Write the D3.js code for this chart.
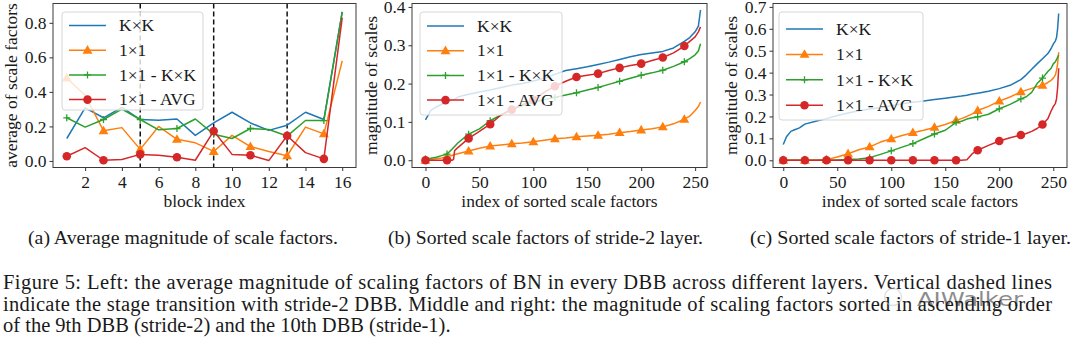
<!DOCTYPE html>
<html>
<head>
<meta charset="utf-8">
<script src="https://cdn.jsdelivr.net/npm/d3@7/dist/d3.min.js"></script>
<style>
  body { margin: 0; background: #fff; }
  svg text { font-family: "Liberation Serif", "Times New Roman", serif; fill: #1a1a1a; }
</style>
</head>
<body>
<svg id="fig" width="1080" height="347"></svg>
<script>
const seriesNames = ["K×K", "1×1", "1×1 - K×K", "1×1 - AVG"];

// (a) average magnitude per block
const blocks = [1, 2, 3, 4, 5, 6, 7, 8, 9, 10, 11, 12, 13, 14, 15, 16];
const avgKxK = [0.13, 0.307, 0.25, 0.31, 0.24, 0.235, 0.243, 0.148, 0.22, 0.282, 0.22, 0.177, 0.207, 0.282, 0.24, 0.864];
const avg1x1 = [0.48, 0.38, 0.175, 0.193, 0.067, 0.2, 0.125, 0.105, 0.055, 0.148, 0.083, 0.055, 0.03, 0.196, 0.157, 0.58];
const avg1x1KxK = [0.25, 0.196, 0.24, 0.3, 0.24, 0.18, 0.188, 0.243, 0.155, 0.13, 0.188, 0.182, 0.144, 0.234, 0.234, 0.864];
const avg1x1Avg = [0.027, 0.077, 0.004, 0.008, 0.038, 0.033, 0.021, 0.004, 0.173, 0.038, 0.033, 0.002, 0.146, 0.048, 0.012, 0.83];
const stageBreaks = [5, 9, 13];

// (b) sorted scale factors, stride-2 block
const idxB = [0, 5, 10, 15, 20, 25, 26, 27, 30, 40, 50, 60, 70, 80, 90, 100, 110, 120, 130, 140, 150, 160, 170, 180, 190, 200, 210, 220, 230, 240, 245, 250, 253, 255];
const s2KxK = [0.105, 0.13, 0.139, 0.146, 0.152, 0.157, 0.158, 0.159, 0.165, 0.172, 0.178, 0.183, 0.19, 0.196, 0.2, 0.207, 0.214, 0.224, 0.234, 0.239, 0.244, 0.25, 0.256, 0.263, 0.27, 0.276, 0.28, 0.284, 0.293, 0.31, 0.32, 0.335, 0.35, 0.392];
const s21x1 = [0, 0.002, 0.004, 0.006, 0.009, 0.013, 0.014, 0.015, 0.017, 0.024, 0.031, 0.037, 0.04, 0.043, 0.045, 0.048, 0.052, 0.056, 0.058, 0.061, 0.063, 0.065, 0.068, 0.072, 0.075, 0.079, 0.082, 0.087, 0.095, 0.107, 0.115, 0.13, 0.14, 0.152];
const s21x1KxK = [0.003, 0.005, 0.008, 0.012, 0.016, 0.03, 0.033, 0.036, 0.045, 0.068, 0.082, 0.103, 0.118, 0.133, 0.143, 0.152, 0.158, 0.164, 0.17, 0.176, 0.183, 0.19, 0.198, 0.206, 0.214, 0.222, 0.228, 0.235, 0.245, 0.257, 0.265, 0.275, 0.285, 0.304];
const s21x1Avg = [0, 0, 0, 0, 0, 0, 0.002, 0.025, 0.033, 0.057, 0.075, 0.094, 0.118, 0.132, 0.145, 0.158, 0.177, 0.193, 0.206, 0.217, 0.222, 0.226, 0.234, 0.241, 0.247, 0.252, 0.26, 0.268, 0.28, 0.298, 0.31, 0.322, 0.335, 0.348];

// (c) sorted scale factors, stride-1 block
const idxC = [0, 3, 7, 10, 15, 20, 30, 40, 50, 60, 70, 80, 90, 100, 110, 120, 130, 140, 150, 160, 165, 170, 175, 180, 190, 200, 210, 220, 225, 230, 235, 240, 245, 248, 250, 252, 253, 254, 255];
const s1KxK = [0.072, 0.107, 0.132, 0.138, 0.148, 0.165, 0.178, 0.19, 0.204, 0.216, 0.226, 0.234, 0.24, 0.249, 0.258, 0.265, 0.271, 0.277, 0.283, 0.29, 0.293, 0.297, 0.302, 0.306, 0.315, 0.327, 0.342, 0.368, 0.39, 0.415, 0.44, 0.463, 0.487, 0.51, 0.53, 0.545, 0.56, 0.6, 0.67];
const s11x1 = [0, 0, 0, 0, 0, 0, 0, 0.003, 0.015, 0.03, 0.048, 0.061, 0.083, 0.098, 0.113, 0.126, 0.137, 0.15, 0.163, 0.182, 0.19, 0.2, 0.212, 0.227, 0.246, 0.27, 0.289, 0.312, 0.32, 0.328, 0.336, 0.342, 0.355, 0.365, 0.375, 0.39, 0.41, 0.44, 0.493];
const s11x1KxK = [0, 0, 0, 0, 0, 0, 0, 0, 0.001, 0.003, 0.006, 0.012, 0.027, 0.043, 0.06, 0.076, 0.098, 0.12, 0.137, 0.173, 0.178, 0.188, 0.194, 0.198, 0.21, 0.235, 0.255, 0.28, 0.29, 0.31, 0.35, 0.375, 0.405, 0.42, 0.44, 0.45, 0.46, 0.47, 0.48];
const s11x1Avg = [0, 0, 0, 0, 0, 0, 0, 0, 0, 0, 0, 0, 0, 0, 0, 0, 0, 0, 0, 0, 0, 0.002, 0.03, 0.046, 0.068, 0.088, 0.103, 0.115, 0.122, 0.132, 0.145, 0.163, 0.19, 0.225, 0.245, 0.26, 0.28, 0.33, 0.42];

const yTicksA = [0.0, 0.2, 0.4, 0.6, 0.8];
const xTicksA = [2, 4, 6, 8, 10, 12, 14, 16];
const yTicksB = [0.0, 0.1, 0.2, 0.3, 0.4];
const yTicksC = [0.0, 0.1, 0.2, 0.3, 0.4, 0.5, 0.6, 0.7];
const xTicksBC = [0, 50, 100, 150, 200, 250];

const colors = ["#1f77b4", "#ff7f0e", "#2ca02c", "#d62728"];
const markers = [null, "triangle", "cross", "circle"];
const fontSize = 17.5;

const svg = d3.select("#fig");

function drawMarker(g, type, x, y, color) {
  if (type === "circle") {
    g.append("circle").attr("cx", x).attr("cy", y).attr("r", 4.3).attr("fill", color);
  } else if (type === "triangle") {
    g.append("path")
      .attr("d", d3.symbol().type(d3.symbolTriangle).size(42)())
      .attr("transform", `translate(${x},${y + 0.6})`)
      .attr("fill", color);
  } else if (type === "cross") {
    g.append("path")
      .attr("d", `M${x - 3.5},${y}H${x + 3.5}M${x},${y - 3.5}V${y + 3.5}`)
      .attr("stroke", color).attr("stroke-width", 1.3);
  }
}

function panel(cfg) {
  const x = d3.scaleLinear().domain(cfg.xDomain).range([cfg.left, cfg.right]);
  const y = d3.scaleLinear().domain(cfg.yDomain).range([cfg.bottom, cfg.top]);
  const g = svg.append("g");

  const clipId = "clip" + cfg.id;
  svg.append("clipPath").attr("id", clipId)
    .append("rect").attr("x", cfg.left).attr("y", cfg.top)
    .attr("width", cfg.right - cfg.left).attr("height", cfg.bottom - cfg.top);
  const plot = g.append("g").attr("clip-path", `url(#${clipId})`);

  // stage transitions
  (cfg.vlines || []).forEach(v => {
    plot.append("line")
      .attr("x1", x(v)).attr("x2", x(v)).attr("y1", cfg.top).attr("y2", cfg.bottom)
      .attr("stroke", "#111").attr("stroke-width", 1.5).attr("stroke-dasharray", "5,3");
  });

  const line = d3.line().x(d => x(d[0])).y(d => y(d[1]));
  cfg.series.forEach((vals, i) => {
    const pts = cfg.xs.map((xv, k) => [xv, vals[k]]);
    plot.append("path").datum(pts)
      .attr("d", line).attr("fill", "none")
      .attr("stroke", colors[i]).attr("stroke-width", 1.5)
      .attr("stroke-linejoin", "round");
    if (markers[i]) {
      pts.filter(cfg.markWhere).forEach(p => drawMarker(plot, markers[i], x(p[0]), y(p[1]), colors[i]));
    }
  });

  // axes
  const xAxis = d3.axisBottom(x).tickValues(cfg.xTicks).tickSize(3.5).tickPadding(3);
  const yAxis = d3.axisLeft(y).tickValues(cfg.yTicks).tickSize(3.5).tickPadding(3).tickFormat(d3.format(".1f"));
  const gx = g.append("g").attr("transform", `translate(0,${cfg.bottom})`).call(xAxis);
  const gy = g.append("g").attr("transform", `translate(${cfg.left},0)`).call(yAxis);
  [gx, gy].forEach(a => {
    a.attr("font-family", null);
    a.select(".domain").remove();
    a.selectAll("line").attr("stroke", "#333");
    a.selectAll("text").attr("font-size", fontSize).attr("fill", "#1a1a1a");
  });
  gx.selectAll("text").attr("dy", "0.8em");

  g.append("rect")
    .attr("x", cfg.left).attr("y", cfg.top)
    .attr("width", cfg.right - cfg.left).attr("height", cfg.bottom - cfg.top)
    .attr("fill", "none").attr("stroke", "#3a3a3a").attr("stroke-width", 1);

  g.append("text")
    .attr("x", (cfg.left + cfg.right) / 2).attr("y", 207)
    .attr("text-anchor", "middle").attr("font-size", fontSize)
    .text(cfg.xlabel);
  g.append("text")
    .attr("transform", `translate(${cfg.ylabelX},${(cfg.top + cfg.bottom) / 2}) rotate(-90)`)
    .attr("text-anchor", "middle").attr("font-size", fontSize)
    .text(cfg.ylabel);

  // legend
  const L = cfg.legend;
  const lg = g.append("g");
  lg.append("rect")
    .attr("x", L.x).attr("y", L.y).attr("width", L.w).attr("height", L.h)
    .attr("rx", 3).attr("fill", "#fff").attr("fill-opacity", 0.8)
    .attr("stroke", "#d6d6d6").attr("stroke-width", 1);
  seriesNames.forEach((name, i) => {
    const ry = L.y + L.first + i * L.step;
    lg.append("line")
      .attr("x1", L.x + 7).attr("x2", L.x + 44).attr("y1", ry).attr("y2", ry)
      .attr("stroke", colors[i]).attr("stroke-width", 1.5);
    if (markers[i]) drawMarker(lg, markers[i], L.x + 25.5, ry, colors[i]);
    lg.append("text")
      .attr("x", L.x + 57).attr("y", ry).attr("dy", "0.33em")
      .attr("font-size", fontSize).text(name);
  });
}

panel({
  id: "a", left: 53, right: 356, top: 3.5, bottom: 167.5,
  xDomain: [0.25, 16.75], yDomain: [-0.038, 0.912],
  xs: blocks, series: [avgKxK, avg1x1, avg1x1KxK, avg1x1Avg],
  markWhere: (p, k) => k % 2 === 0,
  xTicks: xTicksA, yTicks: yTicksA, vlines: stageBreaks,
  xlabel: "block index", ylabel: "average of scale factors", ylabelX: 17,
  legend: { x: 62, y: 12, w: 141, h: 98, first: 13.5, step: 24.7 }
});

panel({
  id: "b", left: 412, right: 707, top: 3.5, bottom: 167.5,
  xDomain: [-12.5, 261], yDomain: [-0.019, 0.409],
  xs: idxB, series: [s2KxK, s21x1, s21x1KxK, s21x1Avg],
  markWhere: p => p[0] % 20 === 0,
  xTicks: xTicksBC, yTicks: yTicksB,
  xlabel: "index of sorted scale factors", ylabel: "magnitude of scales", ylabelX: 376.5,
  legend: { x: 420, y: 12, w: 142, h: 103, first: 14, step: 24.7 }
});

panel({
  id: "c", left: 773, right: 1067, top: 3.5, bottom: 167.5,
  xDomain: [-9.5, 262.7], yDomain: [-0.033, 0.7155],
  xs: idxC, series: [s1KxK, s11x1, s11x1KxK, s11x1Avg],
  markWhere: p => p[0] % 20 === 0,
  xTicks: xTicksBC, yTicks: yTicksC,
  xlabel: "index of sorted scale factors", ylabel: "magnitude of scales", ylabelX: 736.5,
  legend: { x: 779, y: 12, w: 144, h: 108, first: 17, step: 25.4 }
});

// sub-figure captions
const subCaps = [
  { text: "(a) Average magnitude of scale factors.", x: 28, w: 310 },
  { text: "(b) Sorted scale factors of stride-2 layer.", x: 388, w: 315 },
  { text: "(c) Sorted scale factors of stride-1 layer.", x: 750, w: 321 }
];
subCaps.forEach(c => {
  svg.append("text").attr("x", c.x).attr("y", 244)
    .attr("font-size", 19).attr("textLength", c.w).attr("lengthAdjust", "spacingAndGlyphs")
    .text(c.text);
});

// figure caption
const capLines = [
  { text: "Figure 5: Left: the average magnitude of scaling factors of BN in every DBB across different layers. Vertical dashed lines", w: 1049 },
  { text: "indicate the stage transition with stride-2 DBB. Middle and right: the magnitude of scaling factors sorted in ascending order", w: 1049 },
  { text: "of the 9th DBB (stride-2) and the 10th DBB (stride-1).", w: null }
];
capLines.forEach((c, i) => {
  const t = svg.append("text").attr("x", 3).attr("y", 289 + i * 21.5)
    .attr("font-size", 20.5).text(c.text);
  if (c.w) t.attr("textLength", c.w).attr("lengthAdjust", "spacing");
});

// watermark
const wm = svg.append("g").attr("opacity", 0.5);
wm.append("circle").attr("cx", 893).attr("cy", 297).attr("r", 8.5)
  .attr("fill", "none").attr("stroke", "#c4c4c4").attr("stroke-width", 1.5);
wm.append("text").attr("x", 917).attr("y", 306)
  .style("font-family", "'DejaVu Sans', sans-serif")
  .attr("font-size", 20).attr("fill", "#b8b8b8")
  .attr("textLength", 106).attr("lengthAdjust", "spacingAndGlyphs")
  .text("AIWalker");
</script>
</body>
</html>
